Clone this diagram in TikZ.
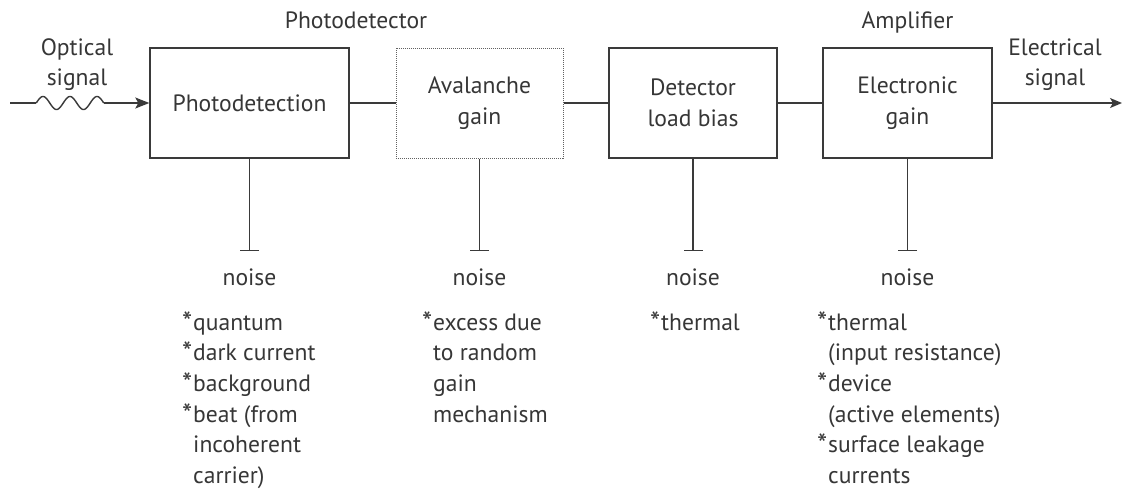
\documentclass[tikz,border=0pt]{standalone}
\usepackage{fontspec}
\setmainfont{PT Sans}
\usetikzlibrary{arrows.meta}
\definecolor{ink}{HTML}{3A3A3A}
\definecolor{txt}{HTML}{363636}
\tikzset{
  lbl/.style={font=\fontsize{23.6}{31}\selectfont, text=txt, inner sep=0pt},
  blk/.style={draw=ink, line width=1.4pt, minimum height=110pt, align=center, lbl},
  dotblk/.style={blk, draw=ink!80, line width=1pt, densely dotted},
  wire/.style={draw=ink, line width=1.4pt},
  noisebar/.style={wire, -{Bar[width=19pt, line width=1.4pt]}},
  sig/.style={wire, -{Stealth[length=14pt, width=11pt, inset=3pt]}},
}
\newcommand{\myast}{\makebox[11pt][l]{\raisebox{-2pt}{\fontsize{29}{29}\selectfont *}}}
\newcommand{\myind}{\hspace*{11pt}}
\begin{document}
\begin{tikzpicture}[x=1pt,y=1pt]
\useasboundingbox (0,0) rectangle (1124,-490);
% blocks
\node[blk, minimum width=199pt] (pd) at (249.5,-103) {Photodetection};
\node[dotblk, minimum width=167pt] (av) at (479.5,-103) {Avalanche\\gain};
\node[blk, minimum width=168pt] (dl) at (693,-103) {Detector\\load bias};
\node[blk, minimum width=169pt] (eg) at (907.5,-103) {Electronic\\gain};
% top labels
\node[lbl, anchor=base] (tpd) at (356,-28) {Photodetector};
\node[lbl, anchor=base] (tam) at (907.5,-28) {Amplifier};
\node[lbl, anchor=base] (opt) at (77,-55) {\vtop{\baselineskip=30pt\halign{\hfil#\hfil\cr Optical\cr signal\cr}}};
\node[lbl, anchor=base] (ele) at (1055,-55) {\vtop{\baselineskip=30pt\halign{\hfil#\hfil\cr Electrical\cr signal\cr}}};
% input optical signal
\coordinate (in0) at (10,-103);
\coordinate (w0) at (36.25,-103);
\coordinate (w1) at (103.75,-103);
\draw[wire] (in0) -- (w0);
\draw[wire, domain=0:67.5, samples=120, smooth] plot ({36.25+\x},{-103+6.5*sin(\x*13.3333)});
\draw[sig] (w1) -- (pd.west);
% chain
\draw[wire] (pd.east) -- (av.west);
\draw[wire] (av.east) -- (dl.west);
\draw[wire] (dl.east) -- (eg.west);
\coordinate (out) at (1122,-103);
\draw[sig, -{Stealth[length=12pt, width=10pt, inset=3pt]}] (eg.east) -- (out);
% noise bars
\foreach \b/\n in {pd/1, av/2, dl/3, eg/4}{
  \coordinate (bar\n) at (\b.south |- 0,-251);
  \draw[noisebar] (\b.south) -- (bar\n);
  \node[lbl, anchor=base] (noise\n) at (\b.south |- 0,-285) {noise};
}
% lists
\node[lbl, anchor=base west] (l1) at (182,-330) {\vtop{\baselineskip=30.7pt
  \hbox{\myast quantum}\hbox{\myast dark current}\hbox{\myast background}\hbox{\myast beat (from}\hbox{\myind incoherent}\hbox{\myind carrier)}}};
\node[lbl, anchor=base west] (l2) at (422,-330) {\vtop{\baselineskip=30.7pt
  \hbox{\myast excess due}\hbox{\myind to random}\hbox{\myind gain}\hbox{\myind mechanism}}};
\node[lbl, anchor=base west] (l3) at (650,-330) {\vtop{\baselineskip=30.7pt
  \hbox{\myast thermal}}};
\node[lbl, anchor=base west] (l4) at (817,-330) {\vtop{\baselineskip=30.7pt
  \hbox{\myast thermal}\hbox{\myind(input resistance)}\hbox{\myast device}\hbox{\myind(active elements)}\hbox{\myast surface leakage}\hbox{\myind currents}}};
\end{tikzpicture}
\end{document}
